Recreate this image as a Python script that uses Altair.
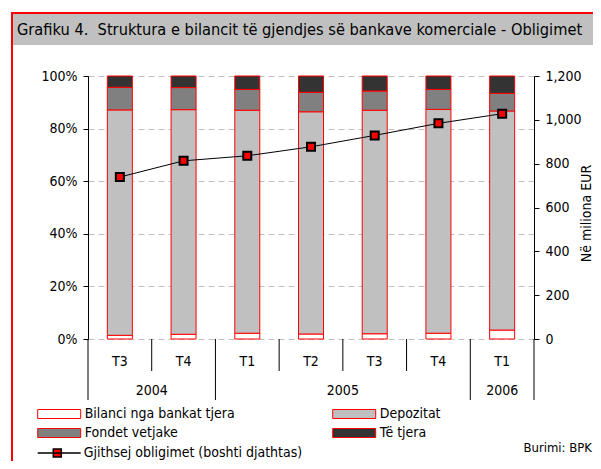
import altair as alt
import pandas as pd

FONT = "DejaVu Sans Condensed, DejaVu Sans, sans-serif"

QUARTERS = ["T3", "T4", "T1", "T2", "T3", "T4", "T1"]
YEARS = ["2004", "2004", "2005", "2005", "2005", "2005", "2006"]
SERIES = ["Bilanci nga bankat tjera", "Depozitat", "Fondet vetjake", "Të tjera"]
BILANCI = [1.4, 1.8, 2.2, 1.9, 2.0, 2.2, 3.4]
DEPOZITAT = [85.7, 85.4, 84.8, 84.5, 85.0, 85.1, 83.3]
FONDET = [8.6, 8.4, 7.9, 7.4, 7.3, 7.6, 6.7]
TE_TJERA = [4.3, 4.4, 5.1, 6.2, 5.7, 5.1, 6.6]
TOTAL = [739, 813, 836, 877, 929, 984, 1028]
LINE_NAME = "Gjithsej obligimet (boshti djathtas)"
TITLE = "Grafiku 4.\u00a0 Struktura e bilancit të gjendjes së bankave komerciale - Obligimet"
SOURCE = "Burimi: BPK"
AXIS_TITLE = "Në miliona EUR"
PCT_TICKS = [0, 20, 40, 60, 80, 100]
EUR_TICKS = [0, 200, 400, 600, 800, 1000, 1200]
COLORS = ["#ffffff", "#c0c0c0", "#808080", "#333333"]

n = len(QUARTERS)
idx = list(range(n))

rows = []
for s_i, (name, vals) in enumerate(zip(SERIES, [BILANCI, DEPOZITAT, FONDET, TE_TJERA])):
    for i in idx:
        rows.append({"idx": i, "series": name, "ord": s_i, "value": vals[i]})
bar_df = pd.DataFrame(rows)

line_df = pd.DataFrame({"idx": idx, "total": TOTAL, "name": [LINE_NAME] * n})
lab_df = pd.DataFrame({"idx": idx, "quarter": QUARTERS, "year": YEARS})

bounds = []
for b in range(n + 1):
    long = b == 0 or b == n or YEARS[b - 1] != YEARS[b]
    bounds.append({"b": b - 0.5, "long": long})
sep_df = pd.DataFrame(bounds)

one = pd.DataFrame({"t": [TITLE], "s": [SOURCE]})


def xs():
    return alt.Scale(domain=[-0.5, n - 0.5], nice=False, zero=False, padding=0)


bars = alt.Chart(bar_df).mark_bar(size=25, stroke="red", strokeWidth=1).encode(
    x=alt.X("idx:Q", scale=xs(),
            axis=alt.Axis(labels=False, ticks=False, grid=False, title=None,
                          domainColor="black", domainWidth=1)),
    y=alt.Y("value:Q", stack="zero", scale=alt.Scale(domain=[0, 100], nice=False),
            axis=alt.Axis(values=PCT_TICKS, labelExpr="datum.value + '%'", title=None,
                          grid=True, gridDash=[6, 4], gridColor="#c0c0c0",
                          domainColor="black", tickColor="black", tickSize=5,
                          labelPadding=6)),
    fill=alt.Fill("series:N", scale=alt.Scale(domain=SERIES, range=COLORS),
                  legend=alt.Legend(orient="none", legendX=-52.3, legendY=331,
                                    direction="horizontal", columns=2, title=None,
                                    symbolType="M-1,-0.9H7.6V0.9H-1Z", symbolSize=100,
                                    symbolStrokeColor="red", symbolStrokeWidth=1,
                                    labelOffset=35, columnPadding=96, rowPadding=5,
                                    labelFont=FONT, labelFontSize=14, padding=0,
                                    labelLimit=300, symbolOpacity=1)),
    order=alt.Order("ord:Q", sort="ascending"),
)

eur_scale = alt.Scale(domain=[0, 1200], nice=False)

line = alt.Chart(line_df).mark_line(color="black", strokeWidth=1).encode(
    x=alt.X("idx:Q", scale=xs(), axis=None),
    y=alt.Y("total:Q", scale=eur_scale,
            axis=alt.Axis(orient="right", values=EUR_TICKS, format=",.0f", title=AXIS_TITLE,
                          titleAngle=270, titleX=52, titleY=137, titleAlign="center",
                          titleBaseline="middle", titleFontWeight="normal",
                          titleFontSize=14, titleFont=FONT, titleColor="black",
                          grid=False, tickSize=5, labelPadding=6,
                          domainColor="black", tickColor="black")),
)
points = alt.Chart(line_df).mark_square(size=64, filled=True, fill="red", strokeWidth=2,
                                        opacity=1).encode(
    x=alt.X("idx:Q", scale=xs(), axis=None),
    y=alt.Y("total:Q", scale=eur_scale, axis=None),
    stroke=alt.Stroke("name:N", scale=alt.Scale(domain=[LINE_NAME], range=["black"]),
                      legend=alt.Legend(orient="none", legendX=-52.3, legendY=370,
                                        title=None,
                                        symbolType="M-1,0H7.6M2.12,-0.8H3.72V0.8H2.12Z",
                                        symbolSize=100, symbolStrokeWidth=1.5,
                                        symbolFillColor="red", labelOffset=34,
                                        labelFont=FONT, labelFontSize=14, padding=0,
                                        labelLimit=300, symbolOpacity=1)),
)

short_sep = alt.Chart(sep_df).transform_filter("!datum.long").mark_rule(
    color="black", strokeWidth=1).encode(
    x=alt.X("b:Q", scale=xs(), axis=None), y=alt.value(263), y2=alt.value(295))
long_sep = alt.Chart(sep_df).transform_filter("datum.long").mark_rule(
    color="black", strokeWidth=1).encode(
    x=alt.X("b:Q", scale=xs(), axis=None), y=alt.value(263), y2=alt.value(324))

q_text = alt.Chart(lab_df).mark_text(font=FONT, fontSize=14, baseline="middle").encode(
    x=alt.X("idx:Q", scale=xs(), axis=None), y=alt.value(285.7), text="quarter:N")
y_text = alt.Chart(lab_df).transform_aggregate(mid="mean(idx)", groupby=["year"]).mark_text(
    font=FONT, fontSize=14, baseline="middle").encode(
    x=alt.X("mid:Q", scale=xs(), axis=None), y=alt.value(314.7), text="year:N")

band = alt.Chart(one).mark_rect(fill="#c0c0c0").encode(
    x=alt.value(-76), x2=alt.value(520), y=alt.value(-63), y2=alt.value(-31))
top_red = alt.Chart(one).mark_rule(color="red", strokeWidth=2).encode(
    x=alt.value(-77), x2=alt.value(520), y=alt.value(-63))
left_red = alt.Chart(one).mark_rule(color="red", strokeWidth=2).encode(
    x=alt.value(-76), y=alt.value(-64), y2=alt.value(400))
title_text = alt.Chart(one).mark_text(font=FONT, fontSize=16.25, align="left",
                                      baseline="alphabetic").encode(
    x=alt.value(-71), y=alt.value(-41), text="t:N")
source_text = alt.Chart(one).mark_text(font=FONT, fontSize=13, align="right",
                                       baseline="middle").encode(
    x=alt.value(504), y=alt.value(372), text="s:N")

chart = alt.layer(
    band, top_red, left_red, title_text, bars, line, points,
    short_sep, long_sep, q_text, y_text, source_text,
).resolve_scale(y="independent").properties(
    width=446, height=263,
    padding={"left": 80, "top": 68, "right": 59, "bottom": 122},
    autosize=alt.AutoSizeParams(type="none"),
    background="white",
).configure_view(stroke=None).configure_axis(
    labelFont=FONT, labelFontSize=14, labelColor="black",
).configure_legend(labelColor="black")

chart.save("out.html", embed_options={"renderer": "svg", "actions": False})
